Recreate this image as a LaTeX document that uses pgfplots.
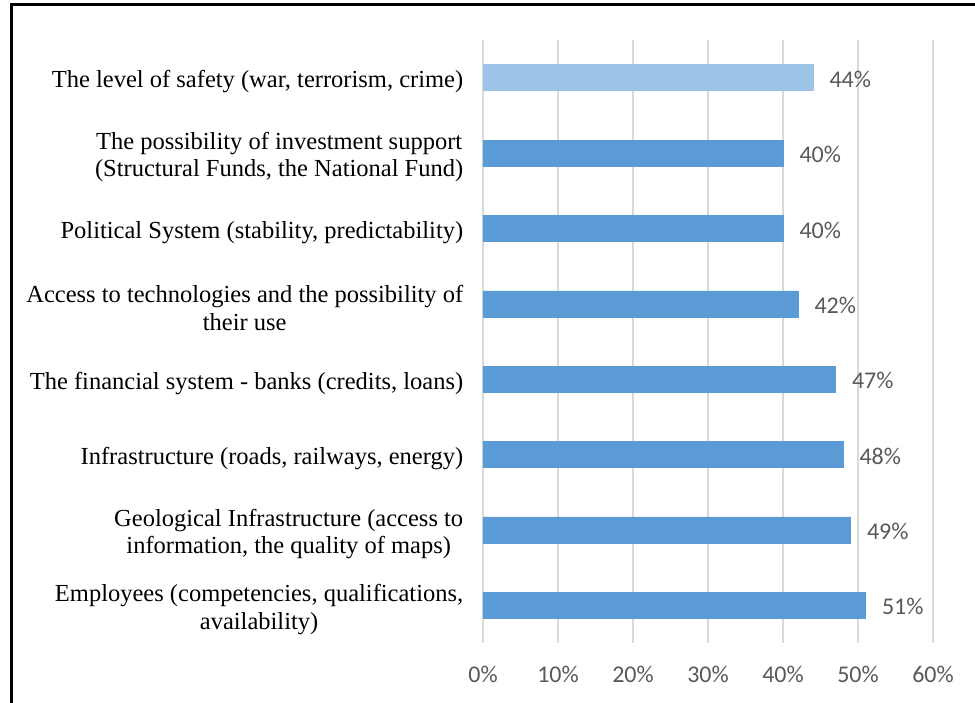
\documentclass[border=0pt]{standalone}
\usepackage{fontspec}
\setmainfont{Liberation Serif}
\newfontfamily\carlito{Carlito}
\usepackage{pgfplots}
\pgfplotsset{compat=1.18}
\definecolor{barDark}{HTML}{5B9BD5}
\definecolor{barLight}{HTML}{9DC3E6}
\definecolor{gridGray}{HTML}{D9D9D9}
\definecolor{txtGray}{HTML}{595959}
\begin{document}
\begin{tikzpicture}[x=1pt,y=1pt]
\useasboundingbox (0,0) rectangle (975,703);
\draw[line width=3pt,black] (11,0) -- (11,698) -- (975,698);
\begin{axis}[
  at={(483pt,60pt)}, anchor=south west,
  scale only axis, width=450pt, height=603pt,
  xmin=0, xmax=60, ymin=-0.5, ymax=7.5,
  xtick={0,10,20,30,40,50,60},
  xticklabels={0\%,10\%,20\%,30\%,40\%,50\%,60\%},
  ytick={0,1,2,3,4,5,6,7},
  yticklabels={
    {Employees (competencies, qualifications,\\availability)},
    {Geological Infrastructure (access to\\information, the quality of maps)},
    {Infrastructure (roads, railways, energy)},
    {The financial system - banks (credits, loans)},
    {Access to technologies and the possibility of\\their use},
    {Political System (stability, predictability)},
    {The possibility of investment support\\(Structural Funds, the National Fund)},
    {The level of safety (war, terrorism, crime)}},
  yticklabel style={align=center, font=\fontsize{24.5}{27.5}\selectfont, text=black, xshift=-12pt, yshift=-4pt},
  xticklabel style={font=\carlito\fontsize{24}{28}\selectfont, text=txtGray, yshift=-20pt},
  axis line style={draw=none},
  major tick style={draw=none},
  xmajorgrids, grid style={gridGray, line width=1.6pt},
  xbar, bar width=26pt,
  nodes near coords={\pgfmathprintnumber[assume math mode=true]{\pgfplotspointmeta}\%},
  nodes near coords style={font=\carlito\fontsize{24}{28}\selectfont, text=txtGray, anchor=west, xshift=13pt, yshift=-1.5pt},
  clip=false,
]
\addplot[bar shift=0pt, fill=barDark, draw=barDark] coordinates {
  (51,0) (49,1) (48,2) (47,3) (42,4) (40,5) (40,6)
};
\addplot[bar shift=0pt, fill=barLight, draw=barLight] coordinates {
  (44,7)
};
\end{axis}
\end{tikzpicture}
\end{document}
